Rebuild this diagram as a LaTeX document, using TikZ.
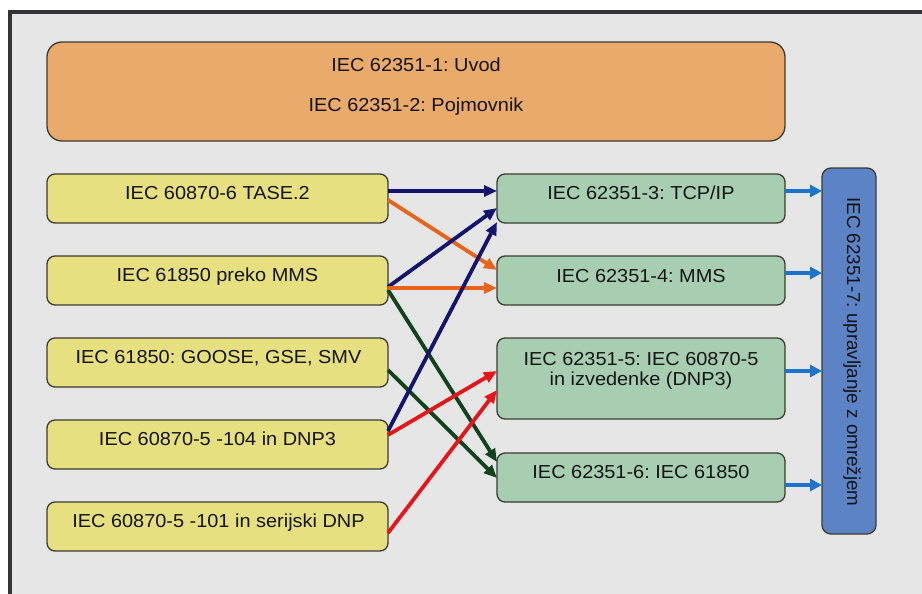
\documentclass[tikz,border=0pt]{standalone}
\usepackage{fontspec}
\setmainfont{Liberation Sans}[FakeStretch=1.06]
\newfontfamily\uprightsans{Liberation Sans}
\usetikzlibrary{arrows.meta,calc}
\frenchspacing

\definecolor{framedark}{RGB}{52,52,54}
\definecolor{panelgray}{RGB}{230,230,230}
\definecolor{boxline}{RGB}{60,60,50}
\definecolor{fillorange}{RGB}{233,170,108}
\definecolor{fillyellow}{RGB}{230,224,128}
\definecolor{fillgreen}{RGB}{168,206,178}
\definecolor{fillblue}{RGB}{92,131,198}
\definecolor{arrnavy}{RGB}{20,20,112}
\definecolor{arrorange}{RGB}{232,100,28}
\definecolor{arrgreen}{RGB}{16,66,28}
\definecolor{arrred}{RGB}{228,22,26}
\definecolor{arrblue}{RGB}{24,116,204}
\definecolor{txt}{RGB}{20,20,20}

\tikzset{
  boxbase/.style={draw=boxline, line width=1.3pt, inner sep=0pt, outer sep=0pt,
    rounded corners=8pt},
  topbox/.style={boxbase, fill=fillorange, rounded corners=15pt,
    minimum width=738pt, minimum height=99pt},
  srcbox/.style={boxbase, fill=fillyellow, minimum width=341pt, minimum height=49pt},
  stdbox/.style={boxbase, fill=fillgreen, minimum width=288pt, minimum height=49pt},
  mgmtbox/.style={boxbase, fill=fillblue, rounded corners=9pt,
    minimum width=54pt, minimum height=366pt},
  lbl/.style={inner sep=0pt, text=txt, font=\frenchspacing\fontsize{18.8}{20}\selectfont},
  vlbl/.style={inner sep=0pt, text=txt, font=\frenchspacing\uprightsans\fontsize{18.8}{20}\selectfont},
  link/.style={line width=3.8pt, -{Triangle[length=13pt,width=11pt]}},
  feed/.style={line width=3.8pt, draw=arrblue, -{Triangle[length=12pt,width=12pt]}},
}

\begin{document}
\begin{tikzpicture}[x=1pt, y=-1pt]
  \useasboundingbox (0,0) rectangle (922,594);
  % page frame
  \fill[white] (0,0) rectangle (922,594);
  \fill[framedark] (8,10) rectangle (922,594);
  \fill[panelgray] (12,14) rectangle (922,594);

  % overview box
  \node[topbox] (intro) at (416,91.5) {};
  \node[lbl, anchor=base] (introA) at (416,71.5) {IEC 62351-1: Uvod};
  \node[lbl, anchor=base] (introB) at (416,111.5) {IEC 62351-2: Pojmovnik};

  % protocols
  \node[srcbox] (Y1) at (217.5,198.5) {};
  \node[srcbox] (Y2) at (217.5,280.5) {};
  \node[srcbox] (Y3) at (217.5,362.5) {};
  \node[srcbox] (Y4) at (217.5,444.5) {};
  \node[srcbox] (Y5) at (217.5,526.5) {};
  \node[lbl, anchor=base] (tY1) at (217.5,199.5) {IEC 60870-6 TASE.2};
  \node[lbl, anchor=base] (tY2) at (217.5,281.5) {IEC 61850 preko MMS};
  \node[lbl, anchor=base] (tY3) at (218.5,363.5) {IEC 61850: GOOSE, GSE, SMV};
  \node[lbl, anchor=base] (tY4) at (217.5,445.5) {IEC 60870-5 -104 in DNP3};
  \node[lbl, anchor=base] (tY5) at (218.5,527.5) {IEC 60870-5 -101 in serijski DNP};

  % security parts
  \node[stdbox] (G1) at (641,198.5) {};
  \node[stdbox] (G2) at (641,280.5) {};
  \node[stdbox, minimum height=81pt] (G3) at (641,378.5) {};
  \node[stdbox] (G4) at (641,477.5) {};
  \node[lbl, anchor=base] (tG1) at (641,199.5) {IEC 62351-3: TCP/IP};
  \node[lbl, anchor=base] (tG2) at (641,282.5) {IEC 62351-4: MMS};
  \node[lbl, anchor=base] (tG3a) at (641,365.5) {IEC 62351-5: IEC 60870-5};
  \node[lbl, anchor=base] (tG3b) at (641,385.5) {in izvedenke (DNP3)};
  \node[lbl, anchor=base] (tG4) at (641,478.5) {IEC 62351-6: IEC 61850};

  % network management
  \node[mgmtbox] (M) at (849,351) {};
  \node[vlbl, rotate=-90] (tM) at (852,352) {IEC 62351-7: upravljanje z omrežjem};

  % protocol to security part links
  \draw[link, arrorange] ($(Y1.east)+(0,1.5)$) -- ($(G2.west)+(0,-10.5)$);
  \draw[link, arrnavy] ($(Y1.east)+(0,-7.5)$) -- ($(G1.west)+(0,-7.5)$);
  \draw[link, arrnavy] ($(Y2.east)+(0,6.5)$) -- ($(G1.west)+(0,9.5)$);
  \draw[link, arrgreen] ($(Y2.east)+(0,9.5)$) -- ($(G4.west)+(0,-15.5)$);
  \draw[link, arrorange] ($(Y2.east)+(0,7.5)$) -- ($(G2.west)+(0,7.5)$);
  \draw[link, arrgreen] ($(Y3.east)+(0,7.5)$) -- ($(G4.west)+(0,0.5)$);
  \draw[link, arrnavy] ($(Y4.east)+(0,-13.5)$) -- ($(G1.west)+(0,23.5)$);
  \draw[link, arrred] ($(Y4.east)+(0,-9.5)$) -- ($(G3.west)+(0,-7.5)$);
  \draw[link, arrred] ($(Y5.east)+(0,6.5)$) -- ($(G3.west)+(0,11.5)$);

  % security parts feeding management
  \draw[feed] ($(G1.east)+(0,-7.5)$) -- (M.west |- {$(G1.east)+(0,-7.5)$});
  \draw[feed] ($(G2.east)+(0,-7.5)$) -- (M.west |- {$(G2.east)+(0,-7.5)$});
  \draw[feed] ($(G3.east)+(0,-7.5)$) -- (M.west |- {$(G3.east)+(0,-7.5)$});
  \draw[feed] ($(G4.east)+(0,7.5)$) -- (M.west |- {$(G4.east)+(0,7.5)$});
\end{tikzpicture}
\end{document}
